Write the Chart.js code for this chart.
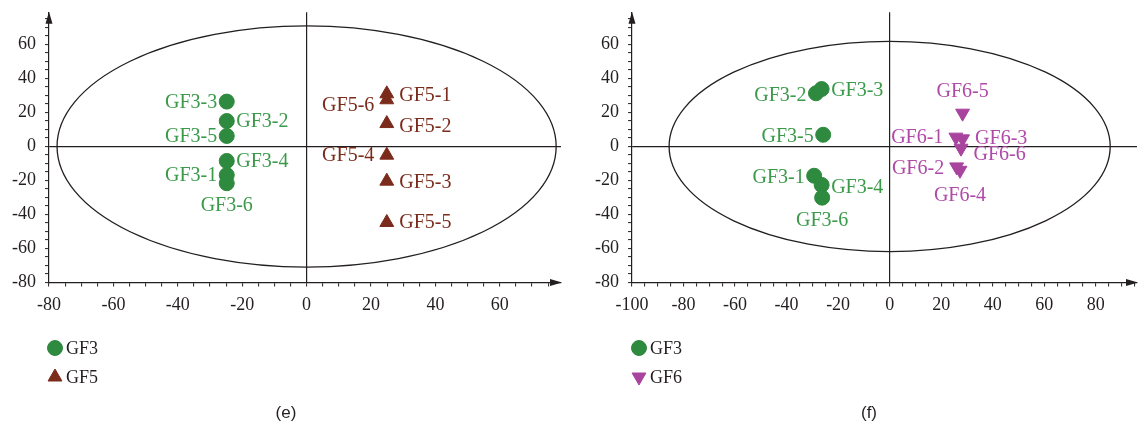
<!DOCTYPE html>
<html><head><meta charset="utf-8">
<script src="https://cdn.jsdelivr.net/npm/chart.js@4.4.1/dist/chart.umd.min.js"></script>
<style>
html,body{margin:0;padding:0;background:#fff;}
#wrap{position:relative;width:1138px;height:425px;overflow:hidden;background:#fff;}
canvas{position:absolute;top:0;}
</style></head><body>
<div id="wrap">
<canvas id="ce" width="570" height="425" style="left:0"></canvas>
<canvas id="cf" width="568" height="425" style="left:570px"></canvas>
</div>
<script>
// ---------- data ----------
const sampleNumbers = ['1', '2', '3', '4', '5', '6'];

// panel (e): GF3 vs GF5
const gf3E_x = [-24.8, -24.8, -24.8, -24.8, -24.8, -24.8];
const gf3E_y = [-16.8, 15.0, 26.4, -8.5, 6.2, -21.6];
const gf5E_x = [24.9, 24.9, 24.9, 24.9, 24.9, 24.9];
const gf5E_y = [31.0, 13.5, -20.4, -5.1, -44.7, 27.5];

// panel (f): GF3 vs GF6
const gf3F_x = [-29.3, -28.6, -26.4, -26.4, -25.8, -26.2];
const gf3F_y = [-17.2, 31.3, 33.8, -22.6, 6.9, -30.1];
const gf6F_x = [25.7, 26.0, 28.3, 27.3, 28.3, 27.7];
const gf6F_y = [5.5, -12.0, 4.5, -14.0, 19.6, -1.0];

// Hotelling ellipse semi-axes
const ellipseE = [77.5, 70.9];
const ellipseF = [85.6, 61.8];

// axis ranges
const rangeE = {xMin: -80, xMax: 79, yMin: -80, yMax: 79};
const rangeF = {xMin: -100, xMax: 96, yMin: -80, yMax: 79};
const tickStep = 5;
const labelStep = 20;

// ---------- styling ----------
const INK = '#231f20';
const SERIF = '"Liberation Serif", "Times New Roman", serif';
const GREEN = '#2e8a3e', GREEN_TXT = '#3b9a4a';
const BROWN = '#7b2b1b', BROWN_TXT = '#7b2b1b';
const MAGENTA = '#a8449e', MAGENTA_TXT = '#b04aa7';

// label placement: [side, dy]
const placeE = {
  'GF3-1': ['left', 0], 'GF3-2': ['right', 0], 'GF3-3': ['left', 0],
  'GF3-4': ['right', 0], 'GF3-5': ['left', 0], 'GF3-6': ['below', 0],
  'GF5-1': ['right', 1], 'GF5-2': ['right', 2], 'GF5-3': ['right', 1],
  'GF5-4': ['left', 0], 'GF5-5': ['right', -1], 'GF5-6': ['left', 5]
};
const placeF = {
  'GF3-1': ['left', 1], 'GF3-2': ['left', 1], 'GF3-3': ['right', 1],
  'GF3-4': ['right', 2], 'GF3-5': ['left', 1], 'GF3-6': ['below', 0],
  'GF6-1': ['left', 0], 'GF6-2': ['left', 1], 'GF6-3': ['right', -1],
  'GF6-4': ['below', 2], 'GF6-5': ['above', 0], 'GF6-6': ['right', 6]
};

function pts(xs, ys) { return xs.map((v, i) => ({x: v, y: ys[i]})); }

function scaleOpts(min, max, fitKey, fitVal, pad) {
  return {
    type: 'linear', min: min, max: max,
    ticks: {
      stepSize: tickStep, includeBounds: false, autoSkip: false, maxRotation: 0,
      padding: pad, color: INK, font: {family: SERIF, size: 18},
      callback: v => (Math.round(v) % labelStep === 0 ? String(v) : '')
    },
    grid: {
      drawOnChartArea: true, drawTicks: true, tickLength: 4,
      color: c => (c.tick && c.tick.value === 0 ? INK : 'rgba(0,0,0,0)'),
      tickColor: INK, lineWidth: 1.2, tickWidth: 1
    },
    border: {display: true, color: INK, width: 1.2},
    afterFit: s => {
      s[fitKey] = fitVal;
      s.paddingTop = 0; s.paddingBottom = 0; s.paddingLeft = 0; s.paddingRight = 0;
    }
  };
}

function decor(cfg) {
  return {
    id: 'decor',
    beforeDatasetsDraw(chart) {
      const {ctx, scales: {x, y}} = chart;
      const cx = x.getPixelForValue(0), cy = y.getPixelForValue(0);
      const rx = Math.abs(x.getPixelForValue(cfg.ellipse[0]) - cx);
      const ry = Math.abs(y.getPixelForValue(cfg.ellipse[1]) - cy);
      ctx.save();
      ctx.beginPath();
      ctx.ellipse(cx, cy, rx, ry, 0, 0, Math.PI * 2);
      ctx.strokeStyle = INK; ctx.lineWidth = 1.3; ctx.stroke();
      ctx.restore();
    },
    afterDatasetsDraw(chart) {
      const ctx = chart.ctx;
      ctx.save();
      ctx.font = '20px ' + SERIF;
      ctx.textBaseline = 'middle';
      chart.data.datasets.forEach((ds, di) => {
        const meta = chart.getDatasetMeta(di);
        const off = ds.pointStyle === 'circle' ? 9.5 : 12.5;
        meta.data.forEach((el, j) => {
          const name = ds.label + '-' + sampleNumbers[j];
          const p = cfg.place[name] || ['right', 0];
          let tx = el.x, ty = el.y + 1 + p[1];
          if (p[0] === 'left') { ctx.textAlign = 'right'; tx -= off; }
          else if (p[0] === 'right') { ctx.textAlign = 'left'; tx += off; }
          else if (p[0] === 'below') { ctx.textAlign = 'center'; ty += 22; }
          else { ctx.textAlign = 'center'; ty -= 22; }
          ctx.fillStyle = ds.labelColor;
          ctx.fillText(name, tx, ty);
        });
      });
      ctx.restore();
    },
    afterDraw(chart) {
      const {ctx, chartArea: a} = chart;
      ctx.save();
      ctx.fillStyle = INK;
      // y arrow
      ctx.beginPath();
      ctx.moveTo(a.left, a.top - 0.5);
      ctx.lineTo(a.left - 3.5, a.top + 11.5);
      ctx.lineTo(a.left + 3.5, a.top + 11.5);
      ctx.closePath(); ctx.fill();
      // x arrow
      ctx.beginPath();
      ctx.moveTo(a.right + 1, a.bottom);
      ctx.lineTo(a.right - 11, a.bottom - 3.5);
      ctx.lineTo(a.right - 11, a.bottom + 3.5);
      ctx.closePath(); ctx.fill();
      // legend
      chart.data.datasets.forEach((ds, i) => {
        const lx = cfg.legendX, ly = 348 + i * 29;
        ctx.fillStyle = ds.backgroundColor; ctx.strokeStyle = ds.borderColor; ctx.lineWidth = 1;
        Chart.helpers.drawPoint(ctx, {pointStyle: ds.pointStyle, radius: ds.pointStyle === 'circle' ? 7.5 : 8, rotation: ds.rotation || 0, borderWidth: 1}, lx, ly);
        ctx.fillStyle = INK;
        ctx.font = '18px ' + SERIF;
        ctx.textAlign = 'left'; ctx.textBaseline = 'middle';
        ctx.fillText(ds.label, lx + 11, ly + 1);
      });
      // caption
      ctx.font = '17px "Liberation Sans", sans-serif';
      ctx.fillStyle = INK; ctx.textAlign = 'center'; ctx.textBaseline = 'middle';
      ctx.fillText(cfg.caption, cfg.captionX, 413);
      ctx.restore();
    }
  };
}

function makeChart(id, datasets, range, axisW, padRight, cfg) {
  return new Chart(document.getElementById(id), {
    type: 'scatter',
    data: {datasets: datasets},
    options: {
      responsive: false, animation: false,
      layout: {autoPadding: false, padding: {left: 0, right: padRight, top: 12.2, bottom: 112.5}},
      plugins: {legend: {display: false}, tooltip: {enabled: false}},
      scales: {
        x: scaleOpts(range.xMin, range.xMax, 'height', 30, 8),
        y: scaleOpts(range.yMin, range.yMax, 'width', axisW, 9)
      }
    },
    plugins: [decor(cfg)]
  });
}

function ds(label, data, style, color, txt, rot) {
  return {
    label: label, data: data, pointStyle: style, rotation: rot || 0,
    pointRotation: rot || 0,
    pointRadius: style === 'circle' ? 7.5 : 8, pointHoverRadius: style === 'circle' ? 7.5 : 8,
    backgroundColor: color, borderColor: color, pointBorderWidth: 1, labelColor: txt
  };
}

makeChart('ce', [
  ds('GF3', pts(gf3E_x, gf3E_y), 'circle', GREEN, GREEN_TXT),
  ds('GF5', pts(gf5E_x, gf5E_y), 'triangle', BROWN, BROWN_TXT)
], rangeE, 49, 9, {ellipse: ellipseE, place: placeE, legendX: 55, caption: '(e)', captionX: 286});

makeChart('cf', [
  ds('GF3', pts(gf3F_x, gf3F_y), 'circle', GREEN, GREEN_TXT),
  ds('GF6', pts(gf6F_x, gf6F_y), 'triangle', MAGENTA, MAGENTA_TXT, 180)
], rangeF, 62, 1, {ellipse: ellipseF, place: placeF, legendX: 69, caption: '(f)', captionX: 299});
</script>
</body></html>
